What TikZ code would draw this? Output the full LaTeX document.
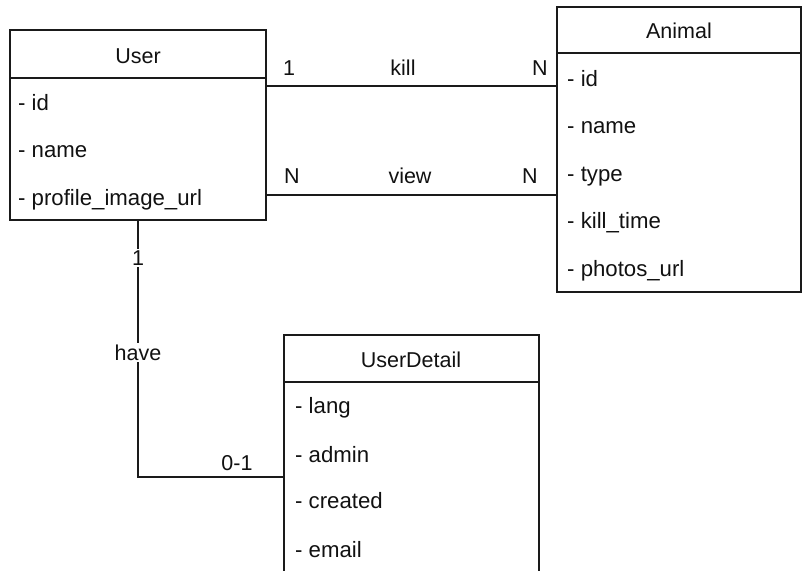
\documentclass[tikz,border=0pt]{standalone}
\usepackage{fontspec}
\setmainfont{Liberation Sans}

\definecolor{Trait}{HTML}{1A1A1A}
\definecolor{Texte}{HTML}{111111}

\begin{document}
\begin{tikzpicture}[x=1pt, y=-1pt,
  attr/.style={anchor=base west, inner sep=0pt, text=Texte, font=\fontsize{22.2}{24}\selectfont},
  titre/.style={anchor=base, inner sep=0pt, text=Texte, font=\fontsize{21.5}{24}\selectfont},
  card/.style={anchor=base, inner sep=1.5pt, fill=white, text=Texte, font=\fontsize{21.5}{24}\selectfont}]

 \useasboundingbox (0,0) rectangle (802,570) ;
 \clip (0,0) rectangle (802,570) ;

 %%%%%%%%%% Points pour travailler %%%%%%%%%%

 \coordinate (u0) at (10,30) ;
 \coordinate (u1) at (266,220) ;
 \coordinate (uh0) at (10,78) ;
 \coordinate (uh1) at (266,78) ;

 \coordinate (a0) at (557,7) ;
 \coordinate (a1) at (801,292) ;
 \coordinate (ah0) at (557,53) ;
 \coordinate (ah1) at (801,53) ;

 \coordinate (d0) at (284,335) ;
 \coordinate (d1) at (539,585) ;
 \coordinate (dh0) at (284,382) ;
 \coordinate (dh1) at (539,382) ;

 \coordinate (uKill) at (266,86) ;
 \coordinate (aKill) at (557,86) ;
 \coordinate (uView) at (266,195) ;
 \coordinate (aView) at (557,195) ;
 \coordinate (uHave) at (138,220) ;
 \coordinate (coin) at (138,477) ;
 \coordinate (dHave) at (284,477) ;

 % User
 \draw [line width=1.5, color=Trait] (u0) rectangle (u1) ;
 \draw [line width=1.5, color=Trait] (uh0) -- (uh1) ;

 % Animal
 \draw [line width=1.5, color=Trait] (a0) rectangle (a1) ;
 \draw [line width=1.5, color=Trait] (ah0) -- (ah1) ;

 % UserDetail
 \draw [line width=1.5, color=Trait] (d0) rectangle (d1) ;
 \draw [line width=1.5, color=Trait] (dh0) -- (dh1) ;

 %%%%%%%%%%% Relations %%%%%%%%%%%
 \draw [line width=1.5, color=Trait] (uKill) -- (aKill) ;
 \draw [line width=1.5, color=Trait] (uView) -- (aView) ;
 \draw [line width=1.2, color=Trait] (uHave) -- (coin) -- (dHave) ;

 %%%%%%%%%%% Textes %%%%%%%%%%%
 \node [titre] (userT) at (138,63) {User} ;
 \node [attr] (userId) at (18,110) {- id} ;
 \node [attr] (userName) at (18,157) {- name} ;
 \node [attr] (userUrl) at (18,205) {- profile\_image\_url} ;

 \node [titre] (animalT) at (679,38) {Animal} ;
 \node [attr] (animalId) at (567,86) {- id} ;
 \node [attr] (animalName) at (567,133) {- name} ;
 \node [attr] (animalType) at (567,181) {- type} ;
 \node [attr] (animalTime) at (567,228) {- kill\_time} ;
 \node [attr] (animalUrl) at (567,276) {- photos\_url} ;

 \node [titre] (detailT) at (411,367) {UserDetail} ;
 \node [attr] (detailLang) at (295,413) {- lang} ;
 \node [attr] (detailAdmin) at (295,462) {- admin} ;
 \node [attr] (detailCreated) at (295,508) {- created} ;
 \node [attr] (detailEmail) at (295,557) {- email} ;

 %%%%%%%%%%% Cardinalites %%%%%%%%%%%
 \node [card] (kill1) at (289,75) {1} ;
 \node [card] (killL) at (403,75) {kill} ;
 \node [card] (killN) at (540,75) {N} ;
 \node [card] (viewN1) at (292,183) {N} ;
 \node [card] (viewL) at (410,183) {view} ;
 \node [card] (viewN2) at (530,183) {N} ;
 \node [card] (have1) at (138,265) {1} ;
 \node [card] (haveL) at (138,360) {have} ;
 \node [card] (have01) at (237,470) {0-1} ;

\end{tikzpicture}
\end{document}
